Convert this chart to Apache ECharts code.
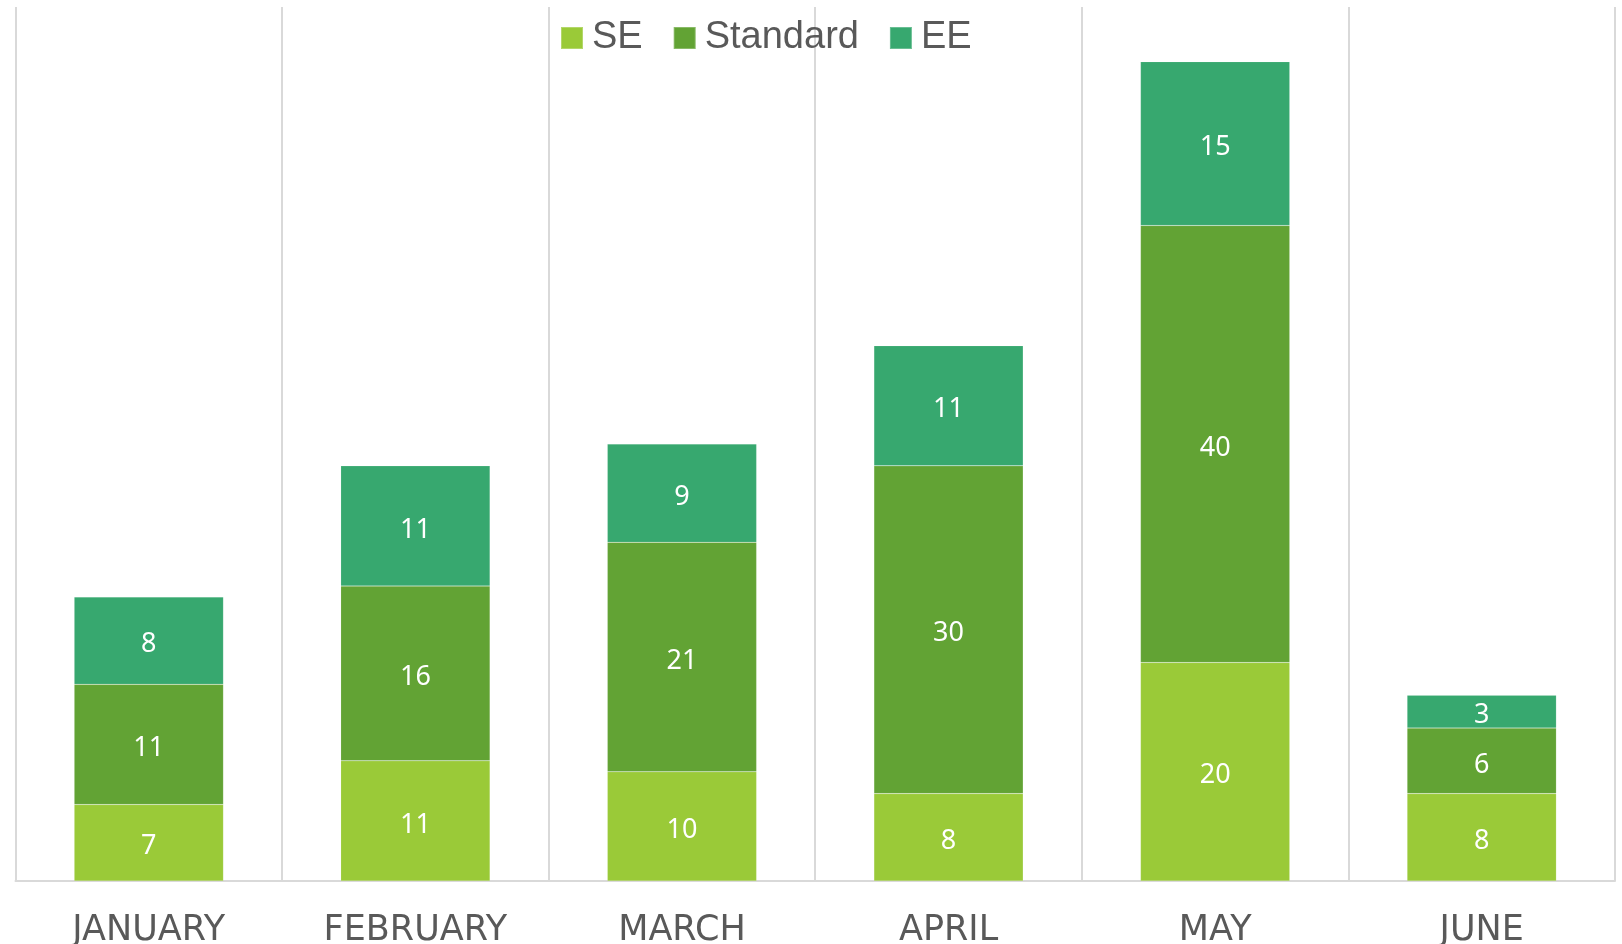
<!DOCTYPE html>
<html>
<head>
<meta charset="utf-8">
<script src="https://cdn.jsdelivr.net/npm/echarts@6/dist/echarts.min.js"></script>
<style>html,body{margin:0;padding:0;background:#fff}#c{width:1622px;height:944px}</style>
</head>
<body>
<div id="c"></div>
<script>
const categories = ['JANUARY', 'FEBRUARY', 'MARCH', 'APRIL', 'MAY', 'JUNE'];
const seValues = [7, 11, 10, 8, 20, 8];
const standardValues = [11, 16, 21, 30, 40, 6];
const eeValues = [8, 11, 9, 11, 15, 3];
const seriesNames = ['SE', 'Standard', 'EE'];
const colors = ['#9ACA38', '#62A334', '#37A86F'];

const chart = echarts.init(document.getElementById('c'), null, {renderer: 'canvas'});
const label = {show: true, position: 'inside', color: '#fff', fontSize: 27, fontFamily: 'Noto Sans', offset: [0, 4]};
function mk(name, data, i) {
  return {name, type: 'bar', stack: 'total', data, barWidth: '56%',
    itemStyle: {color: colors[i], borderColor: 'rgba(255,255,255,0.25)', borderWidth: 0.5},
    label, emphasis: {disabled: true}};
}
chart.setOption({
  animation: false,
  color: colors,
  legend: {
    top: 14, left: 555, itemWidth: 22, itemHeight: 22, itemGap: 30,
    icon: 'rect',
    textStyle: {fontSize: 38, color: '#595959', fontFamily: 'Liberation Sans', padding: [0, 0, 0, 4]}
  },
  grid: {left: 15.5, right: 7, top: 7, bottom: 63, containLabel: false, outerBoundsMode: 'none'},
  xAxis: {
    type: 'category', data: categories,
    axisLine: {show: true, lineStyle: {color: '#D9D9D9', width: 2}},
    axisTick: {show: false},
    splitLine: {show: true, interval: 0, lineStyle: {color: '#D9D9D9', width: 2}},
    axisLabel: {fontSize: 35, color: '#595959', margin: 32, fontFamily: 'DejaVu Sans'}
  },
  yAxis: {
    type: 'value', min: 0, max: 80, interval: 10,
    axisLine: {show: false}, axisTick: {show: false}, axisLabel: {show: false},
    splitLine: {show: false}
  },
  series: [mk(seriesNames[0], seValues, 0), mk(seriesNames[1], standardValues, 1), mk(seriesNames[2], eeValues, 2)]
});
</script>
</body>
</html>
